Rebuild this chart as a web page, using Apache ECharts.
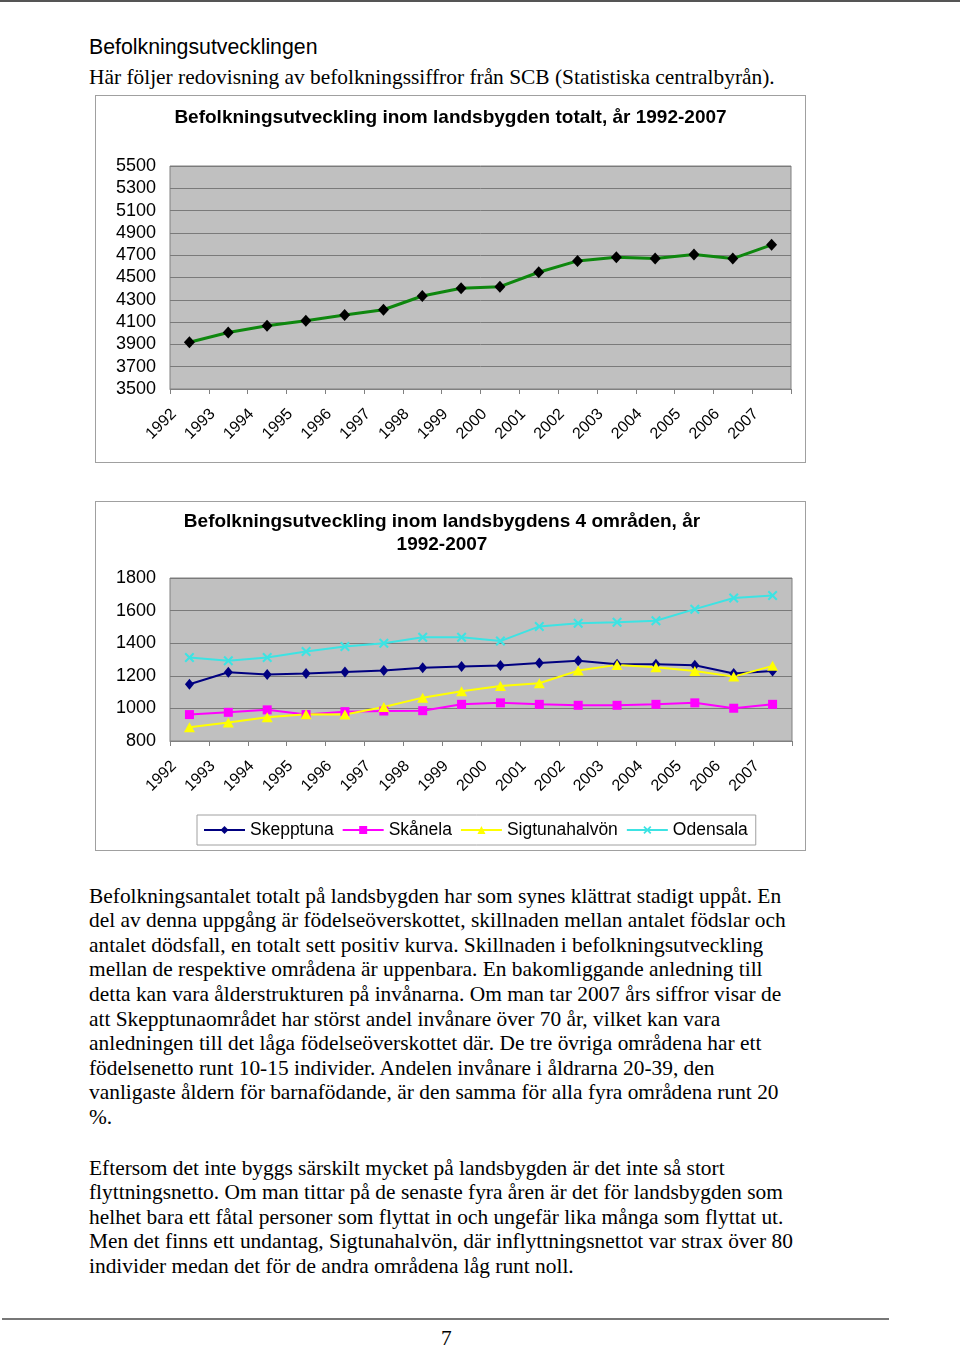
<!DOCTYPE html>
<html>
<head>
<meta charset="utf-8">
<script src="https://cdn.jsdelivr.net/npm/echarts@6/dist/echarts.min.js"></script>
<style>
  html, body { margin: 0; padding: 0; background: #fff; }
  body { width: 960px; height: 1349px; position: relative; overflow: hidden; }
  .topline { position: absolute; left: 0; top: 0; width: 960px; height: 2px; background: #555; }
  .foot { position: absolute; left: 2px; top: 1318px; width: 887px; height: 2px; background: #777; }
  .h { position: absolute; left: 89px; top: 35px; font: 21.3px "Liberation Sans", Arial, sans-serif; line-height: 24px; color: #000; white-space: nowrap; }
  .p { position: absolute; left: 89px; font: 21.4px "Liberation Serif", "Times New Roman", serif; line-height: 24.6px; color: #000; white-space: nowrap; }
  .box { position: absolute; border: 1px solid #a0a0a0; box-sizing: border-box; }
  .pg { position: absolute; left: 441px; top: 1326px; font: 21.4px "Liberation Serif", serif; line-height: 24px; }
</style>
</head>
<body>
<div class="topline"></div>
<div class="h">Befolkningsutvecklingen</div>
<div class="p" style="top:64.7px;">Här följer redovisning av befolkningssiffror från SCB (Statistiska centralbyrån).</div>
<div class="box" id="c1" style="left:95px; top:95px; width:711px; height:368px;"></div>
<div class="box" id="c2" style="left:95px; top:501px; width:711px; height:350px;"></div>
<div class="p" style="top:883.7px;">Befolkningsantalet totalt på landsbygden har som synes klättrat stadigt uppåt. En<br>del av denna uppgång är födelseöverskottet, skillnaden mellan antalet födslar och<br>antalet dödsfall, en totalt sett positiv kurva. Skillnaden i befolkningsutveckling<br>mellan de respektive områdena är uppenbara. En bakomliggande anledning till<br>detta kan vara ålderstrukturen på invånarna. Om man tar 2007 års siffror visar de<br>att Skepptunaområdet har störst andel invånare över 70 år, vilket kan vara<br>anledningen till det låga födelseöverskottet där. De tre övriga områdena har ett<br>födelsenetto runt 10-15 individer. Andelen invånare i åldrarna 20-39, den<br>vanligaste åldern för barnafödande, är den samma för alla fyra områdena runt 20<br>%.</div>
<div class="p" style="top:1155.7px;">Eftersom det inte byggs särskilt mycket på landsbygden är det inte så stort<br>flyttningsnetto. Om man tittar på de senaste fyra åren är det för landsbygden som<br>helhet bara ett fåtal personer som flyttat in och ungefär lika många som flyttat ut.<br>Men det finns ett undantag, Sigtunahalvön, där inflyttningsnettot var strax över 80<br>individer medan det för de andra områdena låg runt noll.</div>
<div class="foot"></div>
<div class="pg">7</div>
<script>
const years = ['1992','1993','1994','1995','1996','1997','1998','1999','2000','2001','2002','2003','2004','2005','2006','2007'];
const totalt = [3920,4007,4067,4112,4163,4211,4334,4403,4418,4547,4649,4682,4670,4706,4670,4793];
const skepptuna = [1148,1222,1208,1214,1224,1232,1249,1257,1263,1279,1292,1271,1271,1265,1214,1230];
const skanela = [962,976,991,962,980,984,986,1025,1034,1025,1019,1019,1025,1034,1001,1025];
const sigtunahalvon = [884,913,945,964,962,1009,1066,1105,1138,1154,1232,1267,1253,1230,1195,1261];
const odensala = [1312,1292,1312,1349,1380,1400,1437,1437,1413,1503,1523,1529,1538,1609,1677,1693];
const totalAxis = { min: 3500, max: 5500, interval: 200 };
const areaAxis = { min: 800, max: 1800, interval: 200 };
const seriesNames = ['Skepptuna','Skånela','Sigtunahalvön','Odensala'];
const title1 = 'Befolkningsutveckling inom landsbygden totalt, år 1992-2007';
const title2 = 'Befolkningsutveckling inom landsbygdens 4 områden, år\n1992-2007';

const FONT = '"Liberation Sans", Arial, sans-serif';
const crossPath = 'path://M0,1.5L1.5,0L5,3.5L8.5,0L10,1.5L6.5,5L10,8.5L8.5,10L5,6.5L1.5,10L0,8.5L3.5,5Z';

function xAxisCfg() {
  return {
    type: 'category', data: years, boundaryGap: true,
    axisLine: { show: true, lineStyle: { color: '#808080', width: 1 } },
    axisTick: { show: true, length: 5, lineStyle: { color: '#808080' } },
    axisLabel: { rotate: 45, margin: 7, padding: [0, 22, 0, 0], fontSize: 16, fontFamily: FONT, color: '#000' }
  };
}
function yAxisCfg(a) {
  return {
    type: 'value', min: a.min, max: a.max, interval: a.interval,
    axisLine: { show: false }, axisTick: { show: false },
    axisLabel: { margin: 14, fontSize: 18, fontFamily: FONT, color: '#000', formatter: v => String(v) },
    splitLine: { show: true, lineStyle: { color: '#7a7a7a', width: 1 } }
  };
}

const c1 = echarts.init(document.getElementById('c1'), null, { renderer: 'canvas' });
c1.setOption({
  animation: false,
  title: { text: title1, left: 'center', top: 7, textStyle: { fontFamily: FONT, fontSize: 19, fontWeight: 'bold', color: '#000' } },
  grid: { left: 74, top: 70, width: 621, height: 223, show: true, backgroundColor: '#c0c0c0', borderColor: '#808080', borderWidth: 1 },
  xAxis: xAxisCfg(),
  yAxis: yAxisCfg(totalAxis),
  series: [{
    type: 'line', data: totalt, symbol: 'diamond', symbolSize: [11, 12],
    lineStyle: { color: '#0e870e', width: 3 },
    itemStyle: { color: '#000' }
  }]
});

const c2 = echarts.init(document.getElementById('c2'), null, { renderer: 'canvas' });
c2.setOption({
  animation: false,
  title: { text: title2, left: 346, top: 8, padding: 0, textAlign: 'center', textStyle: { fontFamily: FONT, fontSize: 19, fontWeight: 'bold', color: '#000', lineHeight: 23 } },
  grid: { left: 74, top: 76, width: 622, height: 163, show: true, backgroundColor: '#c0c0c0', borderColor: '#808080', borderWidth: 1 },
  legend: {
    left: 101, top: 313, padding: [6, 8, 6, 6], itemGap: 8, itemWidth: 41, itemHeight: 10,
    backgroundColor: '#fff', borderColor: '#a0a0a0', borderWidth: 1, borderRadius: 0,
    textStyle: { fontFamily: FONT, fontSize: 17.5, color: '#000' },
    data: seriesNames
  },
  xAxis: xAxisCfg(),
  yAxis: yAxisCfg(areaAxis),
  series: [
    { name: seriesNames[0], type: 'line', data: skepptuna, symbol: 'diamond', symbolSize: [9, 11],
      lineStyle: { color: '#000080', width: 2 }, itemStyle: { color: '#000080' } },
    { name: seriesNames[1], type: 'line', data: skanela, symbol: 'rect', symbolSize: 9,
      lineStyle: { color: '#ff00ff', width: 2 }, itemStyle: { color: '#ff00ff' } },
    { name: seriesNames[2], type: 'line', data: sigtunahalvon, symbol: 'triangle', symbolSize: [11, 10],
      lineStyle: { color: '#ffff00', width: 2 }, itemStyle: { color: '#ffff00' } },
    { name: seriesNames[3], type: 'line', data: odensala, symbol: crossPath, symbolSize: 10,
      lineStyle: { color: '#3de3e3', width: 2 }, itemStyle: { color: '#3de3e3' } }
  ]
});
</script>
</body>
</html>
